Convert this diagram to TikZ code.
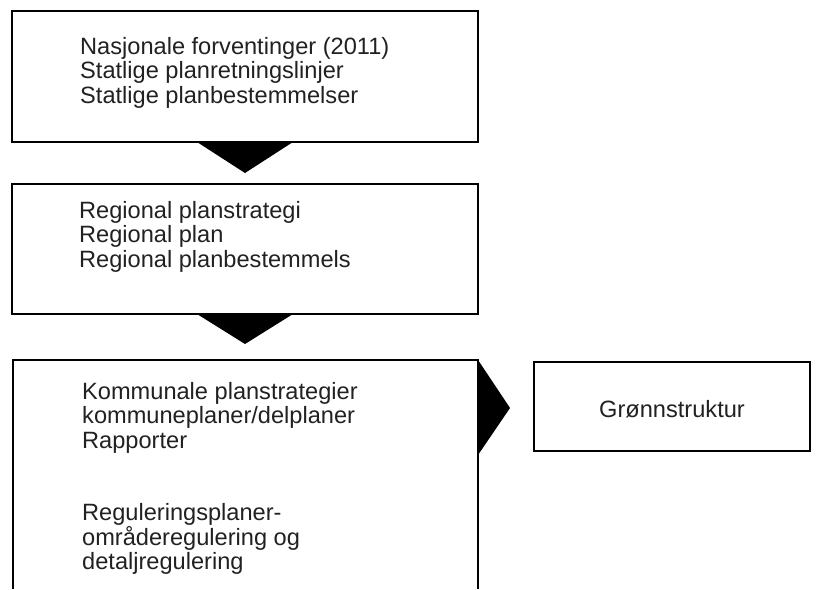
\documentclass[tikz,border=0pt]{standalone}
\usepackage{fontspec}
\setmainfont{Liberation Sans}

\definecolor{txtgray}{rgb}{0.13,0.13,0.13}

\tikzset{
    planbox/.style={draw, line width=2pt, minimum width=466pt, inner sep=0pt, outer sep=0pt},
    boxtext/.style={inner sep=0pt, anchor=base west, align=left, text=txtgray,
        font=\fontsize{23.6}{24.5}\selectfont},
}

\begin{document}
\begin{tikzpicture}[x=1pt, y=-1pt]
    % Define the page
    \useasboundingbox (0,0) rectangle (816,589);

    % Define the plan boxes
    \node[planbox, minimum height=131pt] (nasjonal) at (245,76.5) {};
    \node[planbox, minimum height=130pt] (regional) at (245,249) {};
    \node[planbox, draw=none, minimum width=465pt, minimum height=229pt] (kommune) at (245.5,474.5) {};
    \draw[line width=2pt] (kommune.south west) |- (kommune.north east) -- (kommune.south east);
    \node[planbox, minimum width=276pt, minimum height=89pt] (groenn) at (672,406.5) {};

    % Draw the arrows between the levels
    \fill ([xshift=-48pt]nasjonal.south) -- ([xshift=48pt]nasjonal.south) -- ([yshift=-31pt]nasjonal.south) -- cycle;
    \fill ([xshift=-48pt]regional.south) -- ([xshift=48pt]regional.south) -- ([yshift=-30pt]regional.south) -- cycle;
    \fill (kommune.north east) -- ([yshift=-95pt]kommune.north east) -- ([xshift=32pt,yshift=-48pt]kommune.north east) -- cycle;

    % Label the boxes (base = last line)
    \node[boxtext] (nasjonaltxt) at (80,103) {Nasjonale forventinger (2011)\\Statlige planretningslinjer\\Statlige planbestemmelser};
    \node[boxtext] (regionaltxt) at (79,267) {Regional planstrategi\\Regional plan\\Regional planbestemmels};
    \node[boxtext] (kommunetxt) at (82,569.5) {Kommunale planstrategier\\kommuneplaner/delplaner\\Rapporter\\[48pt]Reguleringsplaner-\\områderegulering og\\detaljregulering};
    \node[boxtext, anchor=base] (groenntxt) at (672,417) {Grønnstruktur};

\end{tikzpicture}
\end{document}
